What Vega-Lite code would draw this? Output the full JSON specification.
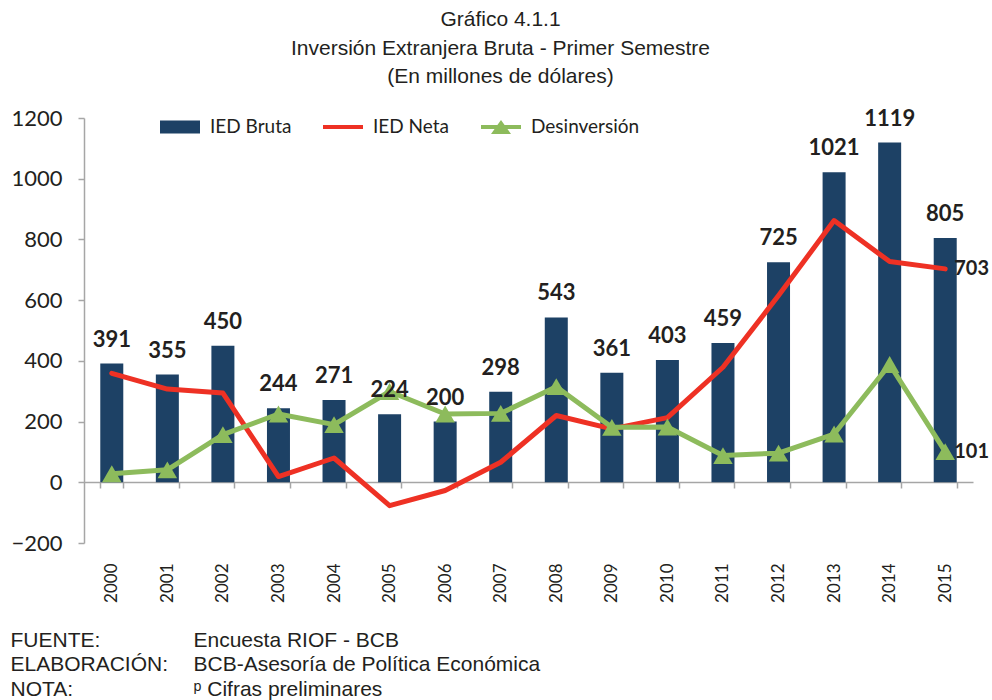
{
  "$schema": "https://vega.github.io/schema/vega-lite/v6.json",
  "width": 889,
  "height": 425,
  "autosize": {"type": "none"},
  "padding": {"left": 84, "top": 118, "right": 19, "bottom": 157},
  "background": "white",
  "title": {
    "text": ["Gráfico 4.1.1", "Inversión Extranjera Bruta - Primer Semestre", "(En millones de dólares)"],
    "font": "Liberation Sans",
    "fontSize": 21,
    "fontWeight": "normal",
    "color": "#231F20",
    "lineHeight": 28.5,
    "anchor": "middle",
    "dx": -28,
    "offset": 20
  },
  "config": {
    "view": {"stroke": null},
    "axis": {"grid": false}
  },
  "data": {
    "values": [
      {"year": "2000", "bruta": 391, "neta": 359, "desinv": 28},
      {"year": "2001", "bruta": 355, "neta": 307, "desinv": 41},
      {"year": "2002", "bruta": 450, "neta": 294, "desinv": 157},
      {"year": "2003", "bruta": 244, "neta": 19, "desinv": 225},
      {"year": "2004", "bruta": 271, "neta": 80, "desinv": 190},
      {"year": "2005", "bruta": 224, "neta": -77, "desinv": 299},
      {"year": "2006", "bruta": 200, "neta": -27, "desinv": 225},
      {"year": "2007", "bruta": 298, "neta": 66, "desinv": 227},
      {"year": "2008", "bruta": 543, "neta": 220, "desinv": 315},
      {"year": "2009", "bruta": 361, "neta": 176, "desinv": 181},
      {"year": "2010", "bruta": 403, "neta": 213, "desinv": 182},
      {"year": "2011", "bruta": 459, "neta": 379, "desinv": 88},
      {"year": "2012", "bruta": 725, "neta": 615, "desinv": 96},
      {"year": "2013", "bruta": 1021, "neta": 862, "desinv": 159},
      {"year": "2014", "bruta": 1119, "neta": 727, "desinv": 388},
      {"year": "2015", "bruta": 805, "neta": 703, "desinv": 101}
    ]
  },
  "encoding": {
    "x": {
      "field": "year",
      "type": "ordinal",
      "scale": {"paddingInner": 0.586, "paddingOuter": 0.293},
      "axis": {
        "orient": "bottom",
        "offset": -61,
        "domainColor": "#A6A6A6",
        "domainWidth": 1.5,
        "tickColor": "#A6A6A6",
        "tickWidth": 1.5,
        "tickSize": 6,
        "tickBand": "extent",
        "labelAngle": -90,
        "labelAlign": "right",
        "labelBaseline": "middle",
        "labelPadding": 75,
        "labelFont": "Lato",
        "labelFontSize": 17,
        "labelColor": "#231F20",
        "title": ["FUENTE:", "ELABORACIÓN:", "NOTA:"],
        "titleFont": "Liberation Sans",
        "titleFontSize": 21,
        "titleFontWeight": "normal",
        "titleColor": "#231F20",
        "titleX": -74,
        "titleY": 164,
        "titleAngle": 0,
        "titleAlign": "left",
        "titleAnchor": "start",
        "titleBaseline": "alphabetic",
        "titleLineHeight": 24.5
      }
    }
  },
  "layer": [
    {
      "mark": {"type": "bar", "color": "#1D4165"},
      "encoding": {
        "y": {
          "field": "bruta",
          "type": "quantitative",
          "scale": {"domain": [-200, 1200], "nice": false, "zero": false},
          "title": ["Encuesta RIOF - BCB", "BCB-Asesoría de Política Económica", "ᵖ Cifras preliminares"],
          "axis": {
            "values": [-200, 0, 200, 400, 600, 800, 1000, 1200],
            "format": "d",
            "domainColor": "#A6A6A6",
            "domainWidth": 1.5,
            "tickColor": "#A6A6A6",
            "tickWidth": 1.5,
            "tickSize": 6,
            "labelFont": "Lato",
            "labelFontSize": 22,
            "labelColor": "#231F20",
            "labelPadding": 16,
            "titleFont": "Liberation Sans",
            "titleFontSize": 21,
            "titleFontWeight": "normal",
            "titleColor": "#231F20",
            "titleX": 109,
            "titleY": 528,
            "titleAngle": 0,
            "titleAlign": "left",
            "titleAnchor": "start",
            "titleBaseline": "alphabetic",
            "titleLineHeight": 24.5
          }
        },
        "color": {
          "datum": "IED Bruta",
          "type": "nominal",
          "scale": {
            "domain": ["IED Bruta", "IED Neta", "Desinversión"],
            "range": ["#1D4165", "#EE3124", "#8DBB5C"]
          },
          "legend": {
            "orient": "none",
            "direction": "horizontal",
            "legendX": 76,
            "legendY": -11,
            "title": null,
            "symbolSize": 1600,
            "labelFont": "Lato",
            "labelFontSize": 19,
            "labelColor": "#231F20",
            "labelOffset": 10,
            "columnPadding": 31,
            "encode": {
              "symbols": {
                "update": {
                  "shape": {"signal": "datum.value === 'IED Bruta' ? 'M-1,-0.33H1V0.33H-1Z' : (datum.value === 'IED Neta' ? 'M-1,-0.1H1V0.1H-1Z' : 'M-1,-0.1H-0.179L0,-0.35L0.179,-0.1H1V0.1H0.321L0.5,0.35H-0.5L-0.321,0.1H-1Z')"},
                  "fill": {"scale": "color", "field": "value"},
                  "stroke": {"value": "transparent"},
                  "strokeWidth": {"value": 0},
                  "opacity": {"value": 1}
                }
              }
            }
          }
        }
      }
    },
    {
      "mark": {"type": "line", "strokeWidth": 5, "strokeJoin": "round", "strokeCap": "round"},
      "encoding": {
        "y": {"field": "neta", "type": "quantitative", "scale": {"domain": [-200, 1200], "nice": false, "zero": false}, "title": ["Encuesta RIOF - BCB", "BCB-Asesoría de Política Económica", "ᵖ Cifras preliminares"]},
        "color": {"datum": "IED Neta", "type": "nominal"}
      }
    },
    {
      "mark": {"type": "line", "strokeWidth": 5, "strokeJoin": "round", "point": {"shape": "triangle-up", "size": 380, "filled": true, "opacity": 1}},
      "encoding": {
        "y": {"field": "desinv", "type": "quantitative", "scale": {"domain": [-200, 1200], "nice": false, "zero": false}, "title": ["Encuesta RIOF - BCB", "BCB-Asesoría de Política Económica", "ᵖ Cifras preliminares"]},
        "color": {"datum": "Desinversión", "type": "nominal"}
      }
    },
    {
      "mark": {"type": "text", "font": "Lato", "fontSize": 22, "fontWeight": "bold", "color": "#231F20", "dy": -24, "baseline": "middle"},
      "encoding": {
        "y": {"field": "bruta", "type": "quantitative", "scale": {"domain": [-200, 1200], "nice": false, "zero": false}, "title": ["Encuesta RIOF - BCB", "BCB-Asesoría de Política Económica", "ᵖ Cifras preliminares"]},
        "text": {"field": "bruta", "type": "quantitative"}
      }
    },
    {
      "transform": [{"filter": "datum.year === '2015'"}],
      "mark": {"type": "text", "font": "Lato", "fontSize": 20, "fontWeight": "bold", "color": "#231F20", "dx": 9, "align": "left", "baseline": "middle"},
      "encoding": {
        "y": {"field": "neta", "type": "quantitative", "scale": {"domain": [-200, 1200], "nice": false, "zero": false}, "title": ["Encuesta RIOF - BCB", "BCB-Asesoría de Política Económica", "ᵖ Cifras preliminares"]},
        "text": {"field": "neta", "type": "quantitative"}
      }
    },
    {
      "transform": [{"filter": "datum.year === '2015'"}],
      "mark": {"type": "text", "font": "Lato", "fontSize": 20, "fontWeight": "bold", "color": "#231F20", "dx": 9, "align": "left", "baseline": "middle"},
      "encoding": {
        "y": {"field": "desinv", "type": "quantitative", "scale": {"domain": [-200, 1200], "nice": false, "zero": false}, "title": ["Encuesta RIOF - BCB", "BCB-Asesoría de Política Económica", "ᵖ Cifras preliminares"]},
        "text": {"field": "desinv", "type": "quantitative"}
      }
    }
  ]
}
